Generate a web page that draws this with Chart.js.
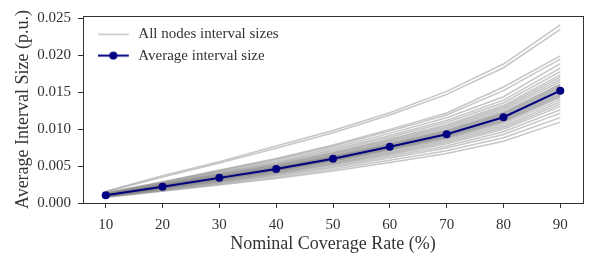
<!DOCTYPE html>
<html>
<head>
<meta charset="utf-8">
<script src="https://cdn.jsdelivr.net/npm/chart.js@4.4.1/dist/chart.umd.min.js"></script>
<style>
  html, body { margin: 0; padding: 0; background: #fff; }
  #wrap { width: 589px; height: 255px; }
</style>
</head>
<body>
<div id="wrap"><canvas id="chart" width="589" height="255"></canvas></div>
<script>
// Interval size vs nominal coverage: one faint line per node, plus the mean.

const COVERAGE = [10, 20, 30, 40, 50, 60, 70, 80, 90];

const AVG_SIZE = [0.00105, 0.0022, 0.0034, 0.0046, 0.0060, 0.0076, 0.0093, 0.0116, 0.0152];

// per-node interval sizes (bundle + two outliers)
const NODE_SIZES = [
  [0.0016, 0.0037, 0.0056, 0.0077, 0.0098, 0.0122, 0.0151, 0.0188, 0.0241],
  [0.0015, 0.0035, 0.0054, 0.0074, 0.0095, 0.0119, 0.0147, 0.0183, 0.0235],
  [0.00138, 0.00288, 0.00445, 0.00603, 0.00786, 0.00996, 0.01218, 0.01570, 0.01991],
  [0.00134, 0.00282, 0.00435, 0.00589, 0.00768, 0.00973, 0.01190, 0.01520, 0.01946],
  [0.00130, 0.00273, 0.00422, 0.00570, 0.00744, 0.00942, 0.01153, 0.01438, 0.01885],
  [0.00126, 0.00264, 0.00408, 0.00552, 0.00720, 0.00912, 0.01116, 0.01392, 0.01824],
  [0.00123, 0.00257, 0.00398, 0.00538, 0.00702, 0.00889, 0.01088, 0.01357, 0.01778],
  [0.00120, 0.00251, 0.00388, 0.00524, 0.00684, 0.00866, 0.01060, 0.01322, 0.01733],
  [0.00118, 0.00246, 0.00381, 0.00515, 0.00672, 0.00851, 0.01042, 0.01299, 0.01702],
  [0.00116, 0.00242, 0.00374, 0.00506, 0.00660, 0.00836, 0.01023, 0.01276, 0.01672],
  [0.00113, 0.00238, 0.00367, 0.00497, 0.00648, 0.00821, 0.01004, 0.01253, 0.01642],
  [0.00111, 0.00233, 0.00360, 0.00488, 0.00636, 0.00806, 0.00986, 0.01230, 0.01611],
  [0.00110, 0.00231, 0.00357, 0.00483, 0.00630, 0.00798, 0.00977, 0.01218, 0.01596],
  [0.00109, 0.00229, 0.00354, 0.00478, 0.00624, 0.00790, 0.00967, 0.01206, 0.01581],
  [0.00108, 0.00227, 0.00350, 0.00474, 0.00618, 0.00783, 0.00958, 0.01195, 0.01566],
  [0.00107, 0.00224, 0.00347, 0.00469, 0.00612, 0.00775, 0.00949, 0.01183, 0.01550],
  [0.00106, 0.00222, 0.00343, 0.00465, 0.00606, 0.00768, 0.00939, 0.01172, 0.01535],
  [0.00105, 0.00220, 0.00340, 0.00460, 0.00600, 0.00760, 0.00930, 0.01160, 0.01520],
  [0.00104, 0.00218, 0.00337, 0.00455, 0.00594, 0.00752, 0.00921, 0.01148, 0.01505],
  [0.00103, 0.00216, 0.00333, 0.00451, 0.00588, 0.00745, 0.00911, 0.01137, 0.01490],
  [0.00102, 0.00213, 0.00330, 0.00446, 0.00582, 0.00737, 0.00902, 0.01125, 0.01474],
  [0.00101, 0.00211, 0.00326, 0.00442, 0.00576, 0.00730, 0.00893, 0.01114, 0.01459],
  [0.00100, 0.00209, 0.00323, 0.00437, 0.00570, 0.00722, 0.00884, 0.01102, 0.01444],
  [0.00099, 0.00207, 0.00320, 0.00432, 0.00564, 0.00714, 0.00874, 0.01090, 0.01429],
  [0.00097, 0.00202, 0.00313, 0.00423, 0.00552, 0.00699, 0.00856, 0.01067, 0.01398],
  [0.00095, 0.00198, 0.00306, 0.00414, 0.00540, 0.00684, 0.00837, 0.01044, 0.01368],
  [0.00092, 0.00194, 0.00299, 0.00405, 0.00528, 0.00669, 0.00818, 0.01021, 0.01338],
  [0.00090, 0.00189, 0.00292, 0.00396, 0.00516, 0.00654, 0.00800, 0.00998, 0.01307],
  [0.00087, 0.00183, 0.00282, 0.00382, 0.00498, 0.00631, 0.00772, 0.00963, 0.01262],
  [0.00084, 0.00176, 0.00272, 0.00368, 0.00480, 0.00608, 0.00744, 0.00928, 0.01216],
  [0.00080, 0.00167, 0.00258, 0.00350, 0.00456, 0.00578, 0.00707, 0.00882, 0.01155],
  [0.00076, 0.00158, 0.00245, 0.00331, 0.00432, 0.00547, 0.00670, 0.00835, 0.01094],
];

const NODE_LABEL = "All nodes interval sizes";
const AVG_LABEL = "Average interval size";
const X_TITLE = "Nominal Coverage Rate (%)";
const Y_TITLE = "Average Interval Size (p.u.)";

const NAVY = "#000080";
const NODE_COLOR = "rgba(128,128,128,0.45)";
const INK = "#333";
const SERIF = "'Liberation Serif', 'DejaVu Serif', serif";

const toPoints = (ys) => ys.map((y, i) => ({ x: COVERAGE[i], y }));

// little line(+dot) swatches for the legend
function legendSample(color, marker) {
  const c = document.createElement("canvas");
  c.width = 33; c.height = 11;
  const g = c.getContext("2d");
  g.strokeStyle = color;
  g.lineWidth = marker ? 2 : 1.5;
  g.beginPath(); g.moveTo(0, 5.5); g.lineTo(31, 5.5); g.stroke();
  if (marker) {
    g.fillStyle = color;
    g.beginPath(); g.arc(15.5, 5.5, 4, 0, Math.PI * 2); g.fill();
  }
  return c;
}

// matplotlib-style full box around the plot
const frame = {
  id: "frame",
  afterDatasetsDraw(chart) {
    const { ctx, chartArea: a } = chart;
    ctx.save();
    ctx.strokeStyle = INK;
    ctx.lineWidth = 1;
    ctx.strokeRect(Math.round(a.left) + 0.5, Math.round(a.top) + 0.5,
      Math.round(a.right - a.left), Math.round(a.bottom - a.top));
    ctx.restore();
  },
};

// nudge the in-plot legend to where the reference has it
const legendNudge = {
  id: "legendNudge",
  afterLayout(chart) {
    const lg = chart.legend;
    if (!lg) return;
    lg.left = chart.chartArea.left + 8.5;
    lg.top = chart.chartArea.top + 4.5;
  },
};

const datasets = [
  {
    label: AVG_LABEL,
    data: toPoints(AVG_SIZE),
    borderColor: NAVY,
    backgroundColor: NAVY,
    borderWidth: 2,
    pointRadius: 4,
    pointBorderWidth: 0,
    tension: 0,
    order: 0,
  },
  ...NODE_SIZES.map((row, i) => ({
    label: i === 0 ? NODE_LABEL : `node ${i + 1}`,
    data: toPoints(row),
    borderColor: NODE_COLOR,
    borderWidth: 1.5,
    pointRadius: 0,
    tension: 0,
    order: 1,
  })),
];

new Chart(document.getElementById("chart").getContext("2d"), {
  type: "line",
  data: { datasets },
  options: {
    responsive: false,
    animation: false,
    devicePixelRatio: 1,
    layout: { padding: { top: 13, right: 6, left: 0, bottom: 0 } },
    plugins: {
      tooltip: { enabled: false },
      legend: {
        position: "chartArea",
        align: "start",
        labels: {
          usePointStyle: true,
          pointStyleWidth: 33,
          padding: 6.3,
          color: INK,
          font: { family: SERIF, size: 15 },
          generateLabels: () => [
            { text: NODE_LABEL, pointStyle: legendSample("#c4c4c4", false), datasetIndex: 1, hidden: false, fontColor: INK },
            { text: AVG_LABEL, pointStyle: legendSample(NAVY, true), datasetIndex: 0, hidden: false, fontColor: INK },
          ],
        },
      },
    },
    scales: {
      x: {
        type: "linear",
        min: 6,
        max: 94,
        afterFit: (s) => { s.height = 52; },
        ticks: {
          stepSize: 10,
          includeBounds: false,
          padding: 8,
          color: INK,
          font: { family: SERIF, size: 15 },
        },
        grid: { drawOnChartArea: false, drawTicks: true, tickLength: 5, color: INK },
        border: { display: false },
        title: {
          display: true,
          text: X_TITLE,
          color: INK,
          font: { family: SERIF, size: 18 },
          padding: { top: 0, bottom: 0 },
        },
      },
      y: {
        min: 0,
        max: 0.0253,
        afterFit: (s) => { s.width = 83; },
        ticks: {
          stepSize: 0.005,
          includeBounds: false,
          padding: 7,
          color: INK,
          font: { family: SERIF, size: 15 },
          callback: (v) => v.toFixed(3),
        },
        grid: { drawOnChartArea: false, drawTicks: true, tickLength: 5, color: INK },
        border: { display: false },
        title: {
          display: true,
          text: Y_TITLE,
          color: INK,
          font: { family: SERIF, size: 18 },
          padding: { top: 12, bottom: 0 },
        },
      },
    },
  },
  plugins: [frame, legendNudge],
});
</script>
</body>
</html>
